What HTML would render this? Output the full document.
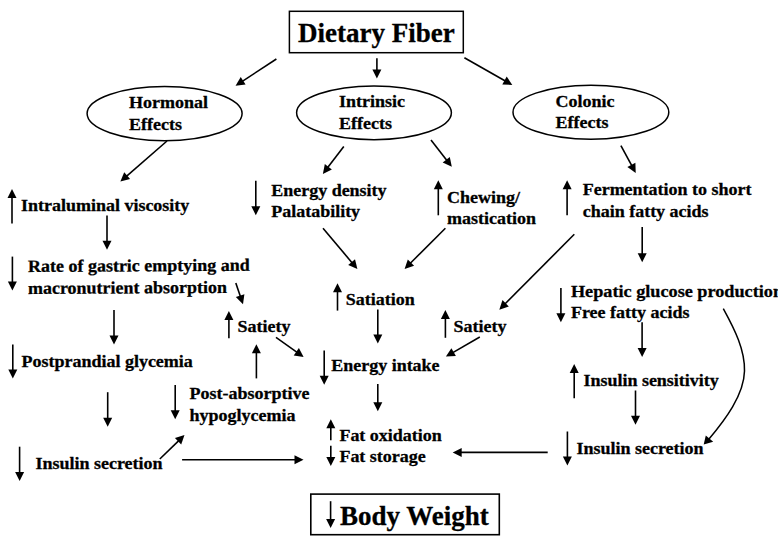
<!DOCTYPE html>
<html><head><meta charset="utf-8"><style>
html,body{margin:0;padding:0;background:#fff;width:784px;height:544px;overflow:hidden}
svg{display:block}
text{font-family:"Liberation Serif",serif;font-weight:bold;fill:#000;stroke:#000;stroke-width:0.3px}
line,path,ellipse,rect{stroke:#000}
polygon{fill:#000}
</style></head><body>
<svg width="784" height="544" viewBox="0 0 784 544">
<rect x="289.4" y="11.3" width="173.9" height="41.4" fill="none" stroke-width="1.5"/>
<text transform="translate(298,41.7) scale(1,1.0)" font-size="27">Dietary Fiber</text>
<line x1="276.4" y1="59.0" x2="242.3" y2="81.3" stroke-width="1.6"/>
<polygon points="235.6,85.7 240.7,77.0 245.6,84.5"/>
<line x1="376.9" y1="58.2" x2="376.9" y2="70.6" stroke-width="1.6"/>
<polygon points="376.9,78.6 372.4,69.6 381.4,69.6"/>
<line x1="464.4" y1="57.8" x2="505.3" y2="81.0" stroke-width="1.6"/>
<polygon points="512.3,84.9 502.3,84.4 506.7,76.6"/>
<ellipse cx="164.6" cy="113.6" rx="77.5" ry="27.1" fill="none" stroke-width="1.5"/>
<ellipse cx="374.0" cy="112.8" rx="77.4" ry="26.9" fill="none" stroke-width="1.5"/>
<ellipse cx="590.9" cy="112.2" rx="77.9" ry="27.0" fill="none" stroke-width="1.5"/>
<text transform="translate(129,108.2) scale(1,0.96)" font-size="18">Hormonal</text>
<text transform="translate(129,129.7) scale(1,0.96)" font-size="18">Effects</text>
<text transform="translate(339,107.4) scale(1,0.96)" font-size="18">Intrinsic</text>
<text transform="translate(339,128.6) scale(1,0.96)" font-size="18">Effects</text>
<text transform="translate(555.5,106.6) scale(1,0.96)" font-size="18">Colonic</text>
<text transform="translate(555.5,127.8) scale(1,0.96)" font-size="18">Effects</text>
<line x1="167.0" y1="141.0" x2="126.4" y2="176.3" stroke-width="1.6"/>
<polygon points="120.4,181.6 124.2,172.3 130.1,179.1"/>
<line x1="12.0" y1="223.4" x2="12.0" y2="197.0" stroke-width="1.6"/>
<polygon points="12.0,189.0 16.5,198.0 7.5,198.0"/>
<text transform="translate(21,210.7) scale(1,0.96)" font-size="18">Intraluminal viscosity</text>
<line x1="107.0" y1="215.4" x2="107.0" y2="241.8" stroke-width="1.6"/>
<polygon points="107.0,249.8 102.5,240.8 111.5,240.8"/>
<line x1="12.4" y1="256.6" x2="12.4" y2="282.6" stroke-width="1.6"/>
<polygon points="12.4,290.6 7.9,281.6 16.9,281.6"/>
<text transform="translate(28,271.9) rotate(-0.3) scale(1,0.96)" font-size="18">Rate of gastric emptying and</text>
<text transform="translate(28,293.9) rotate(-0.3) scale(1,0.96)" font-size="18">macronutrient absorption</text>
<line x1="235.8" y1="283.0" x2="240.4" y2="296.6" stroke-width="1.6"/>
<polygon points="243.0,304.2 235.8,297.1 244.4,294.2"/>
<line x1="114.0" y1="310.0" x2="114.0" y2="336.6" stroke-width="1.6"/>
<polygon points="114.0,344.6 109.5,335.6 118.5,335.6"/>
<line x1="12.8" y1="344.6" x2="12.8" y2="370.6" stroke-width="1.6"/>
<polygon points="12.8,378.6 8.3,369.6 17.3,369.6"/>
<text transform="translate(21.5,366.8) scale(1,0.96)" font-size="18">Postprandial glycemia</text>
<line x1="107.7" y1="392.2" x2="107.7" y2="418.7" stroke-width="1.6"/>
<polygon points="107.7,426.7 103.2,417.7 112.2,417.7"/>
<line x1="19.6" y1="446.7" x2="19.6" y2="473.0" stroke-width="1.6"/>
<polygon points="19.6,481.0 15.1,472.0 24.1,472.0"/>
<text transform="translate(35.5,468.8) scale(1,0.96)" font-size="18">Insulin secretion</text>
<line x1="159.8" y1="459.0" x2="178.8" y2="440.6" stroke-width="1.6"/>
<polygon points="184.5,435.0 181.2,444.5 174.9,438.0"/>
<line x1="182.1" y1="459.8" x2="295.5" y2="459.8" stroke-width="1.6"/>
<polygon points="303.5,459.8 294.5,464.3 294.5,455.3"/>
<line x1="175.2" y1="385.0" x2="175.2" y2="411.3" stroke-width="1.6"/>
<polygon points="175.2,419.3 170.7,410.3 179.7,410.3"/>
<text transform="translate(189.6,398.8) scale(1,0.96)" font-size="18">Post-absorptive</text>
<text transform="translate(189.6,420.5) scale(1,0.96)" font-size="18">hypoglycemia</text>
<line x1="256.4" y1="378.4" x2="256.4" y2="352.3" stroke-width="1.6"/>
<polygon points="256.4,344.3 260.9,353.3 251.9,353.3"/>
<line x1="228.9" y1="338.2" x2="228.9" y2="319.0" stroke-width="1.6"/>
<polygon points="228.9,311.0 233.4,320.0 224.4,320.0"/>
<text transform="translate(237.6,331.8) scale(1,0.96)" font-size="18">Satiety</text>
<line x1="276.0" y1="337.4" x2="297.1" y2="352.4" stroke-width="1.6"/>
<polygon points="303.6,357.0 293.7,355.5 298.9,348.1"/>
<line x1="343.8" y1="146.4" x2="327.7" y2="167.5" stroke-width="1.6"/>
<polygon points="322.9,173.9 324.8,164.0 331.9,169.5"/>
<line x1="255.8" y1="180.8" x2="255.8" y2="207.3" stroke-width="1.6"/>
<polygon points="255.8,215.3 251.3,206.3 260.3,206.3"/>
<text transform="translate(271.2,196.1) scale(1,0.96)" font-size="18">Energy density</text>
<text transform="translate(271.2,217.3) scale(1,0.96)" font-size="18">Palatability</text>
<line x1="431.0" y1="140.0" x2="446.9" y2="160.5" stroke-width="1.6"/>
<polygon points="451.8,166.8 442.7,162.4 449.8,156.9"/>
<line x1="438.3" y1="215.3" x2="438.3" y2="188.3" stroke-width="1.6"/>
<polygon points="438.3,180.3 442.8,189.3 433.8,189.3"/>
<text transform="translate(447,202.5) scale(1,0.96)" font-size="18">Chewing/</text>
<text transform="translate(447,224.2) scale(1,0.96)" font-size="18">mastication</text>
<line x1="323.0" y1="228.2" x2="352.2" y2="262.9" stroke-width="1.6"/>
<polygon points="357.4,269.0 348.2,265.0 355.0,259.2"/>
<line x1="445.4" y1="228.2" x2="410.3" y2="263.3" stroke-width="1.6"/>
<polygon points="404.6,269.0 407.8,259.5 414.1,265.8"/>
<line x1="337.5" y1="310.6" x2="337.5" y2="291.3" stroke-width="1.6"/>
<polygon points="337.5,283.3 342.0,292.3 333.0,292.3"/>
<text transform="translate(345.7,304.7) scale(1,0.96)" font-size="18">Satiation</text>
<line x1="377.8" y1="309.5" x2="377.8" y2="335.4" stroke-width="1.6"/>
<polygon points="377.8,343.4 373.3,334.4 382.3,334.4"/>
<line x1="445.4" y1="337.8" x2="445.4" y2="318.0" stroke-width="1.6"/>
<polygon points="445.4,310.0 449.9,319.0 440.9,319.0"/>
<text transform="translate(453.6,331.9) scale(1,0.96)" font-size="18">Satiety</text>
<line x1="479.8" y1="337.0" x2="452.8" y2="352.6" stroke-width="1.6"/>
<polygon points="445.9,356.6 451.4,348.2 455.9,356.0"/>
<line x1="574.3" y1="234.3" x2="504.9" y2="304.0" stroke-width="1.6"/>
<polygon points="499.3,309.7 502.5,300.1 508.8,306.5"/>
<line x1="324.2" y1="350.5" x2="324.2" y2="376.7" stroke-width="1.6"/>
<polygon points="324.2,384.7 319.7,375.7 328.7,375.7"/>
<text transform="translate(331.2,370.7) scale(1,0.96)" font-size="18">Energy intake</text>
<line x1="377.8" y1="384.0" x2="377.8" y2="403.3" stroke-width="1.6"/>
<polygon points="377.8,411.3 373.3,402.3 382.3,402.3"/>
<line x1="330.8" y1="440.2" x2="330.8" y2="427.2" stroke-width="1.6"/>
<polygon points="330.8,419.2 335.3,428.2 326.3,428.2"/>
<line x1="330.8" y1="445.7" x2="330.8" y2="458.1" stroke-width="1.6"/>
<polygon points="330.8,466.1 326.3,457.1 335.3,457.1"/>
<text transform="translate(339.4,440.6) scale(1,0.96)" font-size="18">Fat oxidation</text>
<text transform="translate(339.4,462) scale(1,0.96)" font-size="18">Fat storage</text>
<rect x="310.8" y="494.1" width="188.5" height="40.6" fill="none" stroke-width="1.6"/>
<line x1="330.6" y1="501.2" x2="330.6" y2="520.0" stroke-width="1.6"/>
<polygon points="330.6,528.0 326.1,519.0 335.1,519.0"/>
<text transform="translate(340,524.6) scale(1,1.0)" font-size="27">Body Weight</text>
<line x1="620.9" y1="145.7" x2="631.9" y2="165.9" stroke-width="1.6"/>
<polygon points="635.7,172.9 627.4,167.1 635.4,162.8"/>
<line x1="567.1" y1="215.3" x2="567.1" y2="188.3" stroke-width="1.6"/>
<polygon points="567.1,180.3 571.6,189.3 562.6,189.3"/>
<text transform="translate(582.7,195.1) scale(1,0.96)" font-size="18">Fermentation to short</text>
<text transform="translate(582.7,217.1) scale(1,0.96)" font-size="18">chain fatty acids</text>
<line x1="642.2" y1="227.0" x2="642.2" y2="254.2" stroke-width="1.6"/>
<polygon points="642.2,262.2 637.7,253.2 646.7,253.2"/>
<line x1="560.9" y1="288.0" x2="560.9" y2="314.3" stroke-width="1.6"/>
<polygon points="560.9,322.3 556.4,313.3 565.4,313.3"/>
<text transform="translate(570.9,296.8) scale(1.012,0.96)" font-size="18">Hepatic glucose production</text>
<text transform="translate(570.9,318.2) scale(1,0.96)" font-size="18">Free fatty acids</text>
<line x1="642.1" y1="322.3" x2="642.1" y2="348.9" stroke-width="1.6"/>
<polygon points="642.1,356.9 637.6,347.9 646.6,347.9"/>
<line x1="574.2" y1="398.2" x2="574.2" y2="372.0" stroke-width="1.6"/>
<polygon points="574.2,364.0 578.7,373.0 569.7,373.0"/>
<text transform="translate(583.4,385.8) scale(1,0.96)" font-size="18">Insulin sensitivity</text>
<line x1="635.5" y1="390.5" x2="635.5" y2="416.7" stroke-width="1.6"/>
<polygon points="635.5,424.7 631.0,415.7 640.0,415.7"/>
<line x1="567.4" y1="431.5" x2="567.4" y2="457.6" stroke-width="1.6"/>
<polygon points="567.4,465.6 562.9,456.6 571.9,456.6"/>
<text transform="translate(576.5,454.3) scale(1,0.96)" font-size="18">Insulin secretion</text>
<path d="M723.3,308.6 C735,330 745,350 744.5,371 C744,395 725,420 709,439" fill="none" stroke-width="1.5"/>
<polygon points="703.7,444.4 705.8,435.6 713.2,441.8"/>
<rect x="778" y="280" width="6" height="24" style="fill:#fff;stroke:none"/>
<line x1="547.7" y1="452.4" x2="460.7" y2="452.4" stroke-width="1.6"/>
<polygon points="452.7,452.4 461.7,447.9 461.7,456.9"/>
</svg>
</body></html>
